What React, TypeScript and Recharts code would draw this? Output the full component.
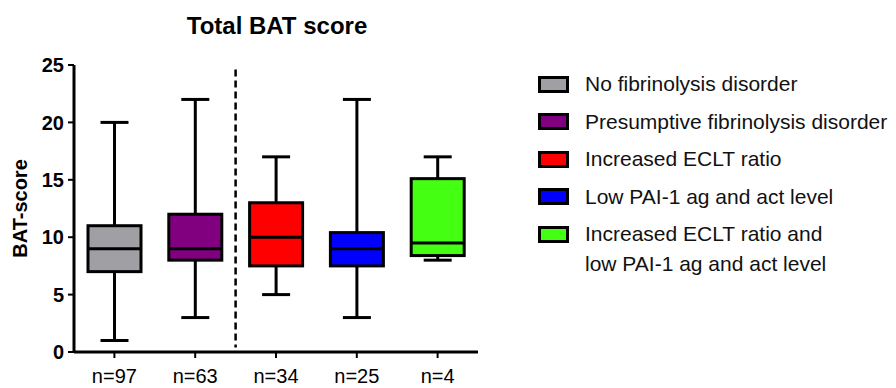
import { ComposedChart, Bar, XAxis, YAxis, ReferenceLine } from 'recharts';

const groups = [
  'No fibrinolysis disorder',
  'Presumptive fibrinolysis disorder',
  'Increased ECLT ratio',
  'Low PAI-1 ag and act level',
  'Increased ECLT ratio and\nlow PAI-1 ag and act level',
];
const sampleSizes = ['n=97', 'n=63', 'n=34', 'n=25', 'n=4'];
const colors = ['#a0a0a4', '#800080', '#ff0000', '#0000ff', '#44ff11'];
const mins = [1, 3, 5, 3, 8];
const q1s = [7, 8, 7.5, 7.5, 8.4];
const medians = [9, 9, 10, 9, 9.5];
const q3s = [11, 12, 13, 10.4, 15.1];
const maxs = [20, 22, 17, 22, 17];
const yTicks = [0, 5, 10, 15, 20, 25];
const xTicks = [1, 2, 3, 4, 5];

const data = groups.map((name, i) => ({
  pos: i + 1,
  name,
  range: [mins[i], maxs[i]],
  min: mins[i],
  q1: q1s[i],
  median: medians[i],
  q3: q3s[i],
  max: maxs[i],
  fill: colors[i],
}));

const font = '"Liberation Sans", Arial, sans-serif';

function BoxShape(props: any) {
  const { x, y, width, height, payload } = props;
  const { min, max, q1, median, q3, fill } = payload;
  const top = Math.min(y, y + height);
  const h = Math.abs(height);
  const toY = (v: number) => top + (h * (max - v)) / (max - min);
  const cx = x + width / 2;
  const cap = 14;
  return (
    <g>
      <line x1={cx} x2={cx} y1={toY(max)} y2={toY(q3)} stroke="#000" strokeWidth={3} />
      <line x1={cx} x2={cx} y1={toY(q1)} y2={toY(min)} stroke="#000" strokeWidth={3} />
      <line x1={cx - cap} x2={cx + cap} y1={toY(max)} y2={toY(max)} stroke="#000" strokeWidth={3} />
      <line x1={cx - cap} x2={cx + cap} y1={toY(min)} y2={toY(min)} stroke="#000" strokeWidth={3} />
      <rect
        x={x}
        y={toY(q3)}
        width={width}
        height={toY(q1) - toY(q3)}
        fill={fill}
        stroke="#000"
        strokeWidth={3}
      />
      <line x1={x} x2={x + width} y1={toY(median)} y2={toY(median)} stroke="#000" strokeWidth={3} />
    </g>
  );
}

const legendRows = [84, 121.5, 159, 196.5, 234];

export default function App() {
  return (
    <div style={{ position: 'absolute', left: 0, top: 0, width: 896, height: 388, background: '#fff', fontFamily: font }}>
      <div
        style={{
          position: 'absolute',
          left: 0,
          top: 14,
          width: 554,
          textAlign: 'center',
          fontSize: 24,
          lineHeight: '24px',
          fontWeight: 'bold',
          color: '#000',
        }}
      >
        Total BAT score
      </div>
      <ComposedChart
        width={896}
        height={388}
        data={data}
        margin={{ top: 65, right: 418, bottom: 0, left: 0 }}
        style={{ position: 'absolute', left: 0, top: 0 }}
      >
        <XAxis
          dataKey="pos"
          type="number"
          domain={[0.5, 5.5]}
          ticks={xTicks}
          tickFormatter={(v: number) => sampleSizes[v - 1]}
          height={36}
          axisLine={{ stroke: '#000', strokeWidth: 3 }}
          tickLine={{ stroke: '#000', strokeWidth: 2 }}
          tickSize={6}
          tickMargin={11}
          tick={{ fill: '#000', fontSize: 20, fontFamily: font }}
        />
        <YAxis
          domain={[0, 25]}
          ticks={yTicks}
          width={74}
          axisLine={{ stroke: '#000', strokeWidth: 3 }}
          tickLine={{ stroke: '#000', strokeWidth: 2 }}
          tickSize={6}
          tickMargin={4}
          tick={{ fill: '#000', fontSize: 20, fontWeight: 'bold', fontFamily: font }}
          label={{
            value: 'BAT-score',
            angle: -90,
            position: 'center',
            dx: -17,
            style: { fill: '#000', fontSize: 20, fontWeight: 'bold', fontFamily: font },
          }}
        />
        <ReferenceLine
          segment={[
            { x: 2.5, y: 24.6 },
            { x: 2.5, y: 0.4 },
          ]}
          stroke="#000"
          strokeWidth={2.5}
          strokeDasharray="7 4"
        />
        <Bar dataKey="range" barSize={53} shape={BoxShape} isAnimationActive={false} />
      </ComposedChart>
      {groups.map((g, i) => (
        <div key={g}>
          <div
            style={{
              position: 'absolute',
              left: 538,
              top: legendRows[i] - 8.5,
              width: 25,
              height: 11,
              background: colors[i],
              border: '3px solid #000',
            }}
          />
          <div
            style={{
              position: 'absolute',
              left: 585,
              top: legendRows[i] - 15,
              fontSize: 21,
              lineHeight: '30px',
              color: '#111',
              whiteSpace: 'pre',
            }}
          >
            {g}
          </div>
        </div>
      ))}
    </div>
  );
}
